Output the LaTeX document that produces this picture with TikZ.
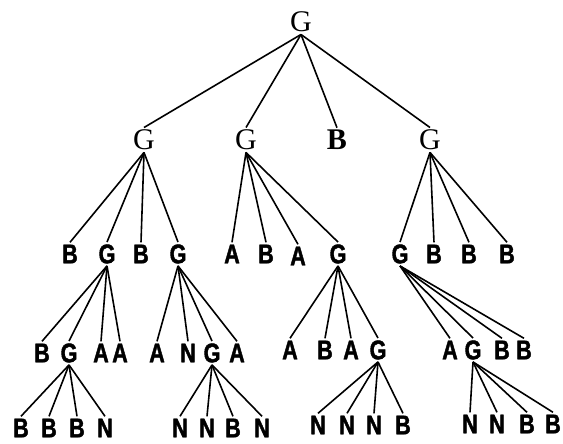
\documentclass[tikz,border=0pt]{standalone}
\usepackage{fontspec}
\setmainfont{Liberation Serif}
\newfontfamily\lblfont{Liberation Sans}[FakeStretch=0.8, FakeBold=1.5]
\begin{document}
\begin{tikzpicture}[
    x=0.5pt, y=-0.5pt,
    big/.style={font=\fontsize{15}{15}\selectfont, inner sep=1pt},
    lbl/.style={font=\lblfont\bfseries\fontsize{13.5}{14}\selectfont, inner sep=1pt},
    edge/.style={line width=0.8pt}
]
\useasboundingbox (0,0) rectangle (563,444);

% Root and first level
\node[big] (g) at (301,22) {G};
\node[big] (g1) at (144,140) {G};
\node[big] (g2) at (246,140) {G};
\node[big, font=\bfseries\fontsize{15}{15}\selectfont] (g3) at (337,140) {B};
\node[big] (g4) at (430,140) {G};

% Second level
\node[lbl] (g11) at (70,254) {B};
\node[lbl] (g12) at (107,254) {G};
\node[lbl] (g13) at (141,254) {B};
\node[lbl] (g14) at (178,254) {G};
\node[lbl] (g21) at (232,254) {A};
\node[lbl] (g22) at (266,254) {B};
\node[lbl] (g23) at (298,256) {A};
\node[lbl] (g24) at (338,254) {G};
\node[lbl] (g41) at (400,254) {G};
\node[lbl] (g42) at (434,254) {B};
\node[lbl] (g43) at (469,254) {B};
\node[lbl] (g44) at (507,254) {B};

% Third level
\node[lbl] (g121) at (42,353) {B};
\node[lbl] (g122) at (69,353) {G};
\node[lbl] (g123) at (101,353) {A};
\node[lbl] (g124) at (120,353) {A};
\node[lbl] (g141) at (157,353) {A};
\node[lbl] (g142) at (188,353) {N};
\node[lbl] (g143) at (212,353) {G};
\node[lbl] (g144) at (237,353) {A};
\node[lbl] (g241) at (290,350) {A};
\node[lbl] (g242) at (325,350) {B};
\node[lbl] (g243) at (351,350) {A};
\node[lbl] (g244) at (378,350) {G};
\node[lbl] (g411) at (450,350) {A};
\node[lbl] (g412) at (473,350) {G};
\node[lbl] (g413) at (502,350) {B};
\node[lbl] (g414) at (524,350) {B};

% Fourth level
\node[lbl] (g1221) at (21,428) {B};
\node[lbl] (g1222) at (49,428) {B};
\node[lbl] (g1223) at (77,428) {B};
\node[lbl] (g1224) at (105,428) {N};
\node[lbl] (g1431) at (180,428) {N};
\node[lbl] (g1432) at (207,428) {N};
\node[lbl] (g1433) at (233,428) {B};
\node[lbl] (g1434) at (262,428) {N};
\node[lbl] (g2441) at (318,425) {N};
\node[lbl] (g2442) at (347,425) {N};
\node[lbl] (g2443) at (374,425) {N};
\node[lbl] (g2444) at (403,425) {B};
\node[lbl] (g4121) at (470,424) {N};
\node[lbl] (g4122) at (497,424) {N};
\node[lbl] (g4123) at (527,424) {B};
\node[lbl] (g4124) at (553,424) {B};

% Branches
\foreach \p/\c in {g/g1, g/g2, g/g3, g/g4,
    g1/g11, g1/g12, g1/g13, g1/g14,
    g2/g21, g2/g22, g2/g23, g2/g24,
    g4/g41, g4/g42, g4/g43, g4/g44,
    g12/g121, g12/g122, g12/g123, g12/g124,
    g14/g141, g14/g142, g14/g143, g14/g144,
    g24/g241, g24/g242, g24/g243, g24/g244,
    g41/g411, g41/g412, g41/g413, g41/g414,
    g122/g1221, g122/g1222, g122/g1223, g122/g1224,
    g143/g1431, g143/g1432, g143/g1433, g143/g1434,
    g244/g2441, g244/g2442, g244/g2443, g244/g2444,
    g412/g4121, g412/g4122, g412/g4123, g412/g4124}
    \draw[edge] (\p.south) -- (\c.north);

\end{tikzpicture}
\end{document}
